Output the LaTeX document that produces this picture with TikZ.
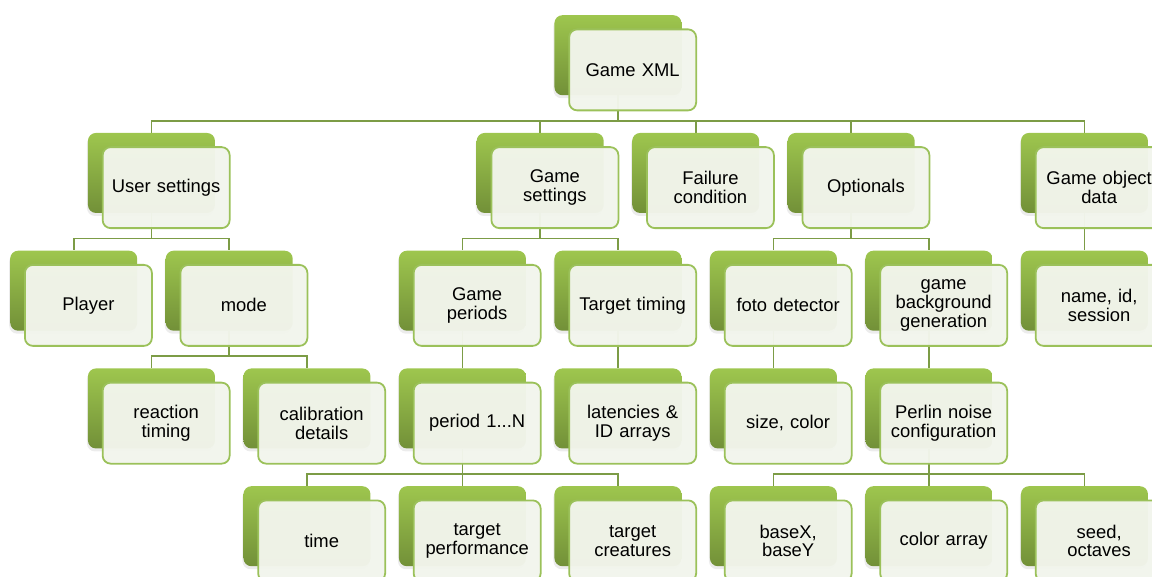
\documentclass[tikz,border=0pt]{standalone}
\usepackage{fontspec}
\setmainfont{Liberation Sans}
\usetikzlibrary{shadows,backgrounds}

\definecolor{leafTop}{RGB}{158,198,78}
\definecolor{leafBot}{RGB}{114,144,56}
\definecolor{cardFill}{RGB}{242,245,236}
\definecolor{cardLine}{RGB}{155,193,90}
\definecolor{linkLine}{RGB}{124,156,70}

\tikzset{
  backbox/.style={anchor=north west, minimum width=127pt, minimum height=80pt,
    inner sep=0pt, rounded corners=8pt, top color=leafTop, bottom color=leafBot,
    drop shadow={shadow xshift=-1pt, shadow yshift=-3pt, opacity=0.15}},
  card/.style={anchor=north west, minimum width=127pt, minimum height=81pt,
    rounded corners=8pt, draw=cardLine, line width=1.8pt, fill=cardFill,
    fill opacity=0.97, text opacity=1, align=center, inner sep=2pt,
    text width=122pt, font=\fontsize{18.4}{18.6}\selectfont},
  link/.style={draw=linkLine, line width=1.8pt},
}

% one hierarchy entry: a green tab behind a light card carrying the label
\newcommand\leaf[4]{%
  \node[backbox] (#1-b) at (#2,#3) {};
  \node[card] (#1) at ([xshift=14pt,yshift=-13.5pt]#1-b.north west) {#4};
}
% elbow connector from a parent tab down to a child tab
\newcommand\linkto[2]{%
  \draw[link] (#1-b.south) |- ([yshift=12pt]#2-b.north) -- (#2-b.north);
}

\begin{document}
\begin{tikzpicture}[x=1pt,y=-1pt]
  \useasboundingbox (0,0) rectangle (1152,577);

  % level 0
  \leaf{xml}{554.25}{15}{Game XML}

  % level 1
  \leaf{user}{87.75}{132.75}{User settings}
  \leaf{gset}{476.5}{132.75}{Game\\settings}
  \leaf{fail}{632}{132.75}{Failure\\condition}
  \leaf{opt}{787.5}{132.75}{Optionals}
  \leaf{obj}{1020.75}{132.75}{Game object\\data}

  % level 2
  \leaf{player}{10}{250.5}{Player}
  \leaf{mode}{165.5}{250.5}{mode}
  \leaf{periods}{398.75}{250.5}{Game\\periods}
  \leaf{ttiming}{554.25}{250.5}{Target timing}
  \leaf{foto}{709.75}{250.5}{foto detector}
  \leaf{bg}{865.25}{250.5}{game\\background\\generation}
  \leaf{nameid}{1020.75}{250.5}{name, id,\\session}

  % level 3
  \leaf{react}{87.75}{368.25}{reaction\\timing}
  \leaf{calib}{243.25}{368.25}{calibration\\details}
  \leaf{period}{398.75}{368.25}{period 1...N}
  \leaf{lat}{554.25}{368.25}{latencies \&\\ID arrays}
  \leaf{size}{709.75}{368.25}{size, color}
  \leaf{perlin}{865.25}{368.25}{Perlin noise\\configuration}

  % level 4
  \leaf{time}{243.25}{486}{time}
  \leaf{tperf}{398.75}{486}{target\\performance}
  \leaf{tcreat}{554.25}{486}{target\\creatures}
  \leaf{base}{709.75}{486}{baseX,\\baseY}
  \leaf{carr}{865.25}{486}{color array}
  \leaf{seed}{1020.75}{486}{seed,\\octaves}

  \begin{pgfonlayer}{background}
    \foreach \c in {user,gset,fail,opt,obj} {\linkto{xml}{\c}}
    \foreach \c in {player,mode} {\linkto{user}{\c}}
    \foreach \c in {react,calib} {\linkto{mode}{\c}}
    \foreach \c in {periods,ttiming} {\linkto{gset}{\c}}
    \linkto{periods}{period}
    \linkto{ttiming}{lat}
    \foreach \c in {time,tperf,tcreat} {\linkto{period}{\c}}
    \foreach \c in {foto,bg} {\linkto{opt}{\c}}
    \linkto{foto}{size}
    \linkto{bg}{perlin}
    \foreach \c in {base,carr,seed} {\linkto{perlin}{\c}}
    \linkto{obj}{nameid}
  \end{pgfonlayer}
\end{tikzpicture}
\end{document}
